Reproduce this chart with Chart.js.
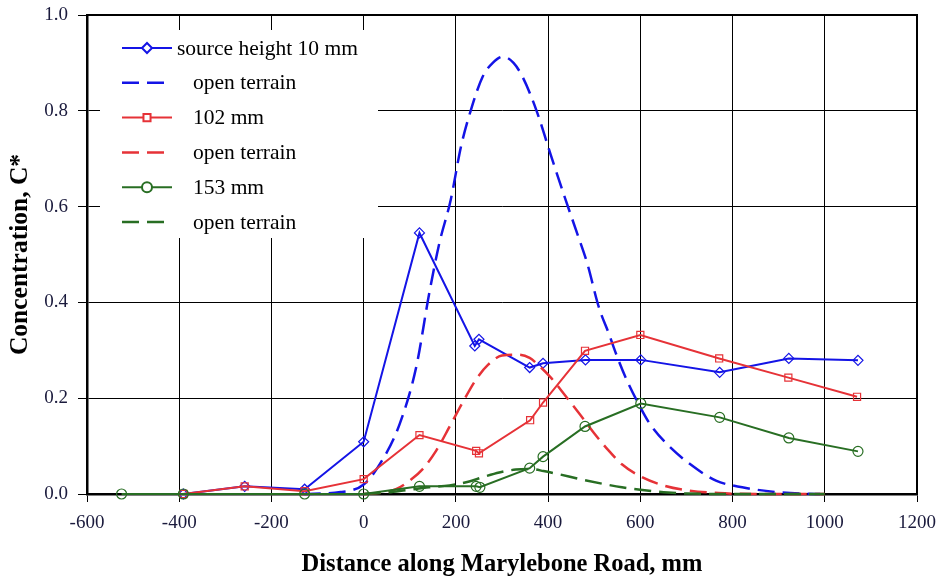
<!DOCTYPE html>
<html>
<head>
<meta charset="utf-8">
<script src="https://cdn.jsdelivr.net/npm/chart.js@4.4.1/dist/chart.umd.min.js"></script>
<style>
  html, body { margin: 0; padding: 0; background: #fff; }
  canvas { display: block; }
</style>
</head>
<body>
<canvas id="chart" width="946" height="581"></canvas>
<script>
// Measured concentrations, source height 10 mm
const h10X = [-391, -258, -128, 0, 121, 241, 250, 360, 389, 481, 601, 772, 922, 1072];
const h10Y = [0.0, 0.016, 0.010, 0.109, 0.545, 0.309, 0.323, 0.264, 0.273, 0.280, 0.280, 0.254, 0.283, 0.279];
// Source height 102 mm
const h102X = [-391, -258, -128, 0, 121, 244, 250, 361, 389, 480, 600, 771, 921, 1070];
const h102Y = [0.0, 0.016, 0.006, 0.031, 0.123, 0.090, 0.085, 0.154, 0.191, 0.299, 0.332, 0.283, 0.243, 0.203];
// Source height 153 mm
const h153X = [-525, -391, -128, 0, 121, 244, 252, 360, 389, 480, 601, 772, 922, 1072];
const h153Y = [0, 0, 0, 0, 0.016, 0.016, 0.014, 0.054, 0.078, 0.141, 0.189, 0.160, 0.117, 0.089];

// Open terrain profiles
const open10X = [-130, -50, 0, 40, 78, 114, 142, 164, 189, 211, 232, 258, 280, 302, 325, 345, 375, 405, 438, 463, 485, 510, 532, 550, 571, 600, 621, 657, 707, 764, 821, 907, 990];
const open10Y = [0, 0.004, 0.02, 0.07, 0.146, 0.265, 0.418, 0.523, 0.615, 0.725, 0.80, 0.871, 0.900, 0.913, 0.900, 0.870, 0.80, 0.71, 0.614, 0.544, 0.481, 0.39, 0.334, 0.286, 0.237, 0.181, 0.146, 0.105, 0.063, 0.028, 0.014, 0.003, 0];
const open102X = [0, 40, 70, 100, 128, 157, 186, 214, 243, 270, 300, 335, 360, 380, 405, 440, 470, 499, 530, 560, 600, 650, 700, 770, 850, 1000];
const open102Y = [0, 0.003, 0.01, 0.028, 0.052, 0.09, 0.14, 0.19, 0.238, 0.27, 0.289, 0.291, 0.284, 0.268, 0.244, 0.202, 0.165, 0.128, 0.092, 0.062, 0.037, 0.018, 0.008, 0.002, 0, 0];
const open153X = [0, 50, 92, 142, 186, 229, 258, 294, 330, 363, 390, 420, 470, 520, 560, 600, 660, 700, 800, 1000];
const open153Y = [0, 0.003, 0.008, 0.014, 0.018, 0.026, 0.035, 0.045, 0.051, 0.052, 0.048, 0.042, 0.031, 0.021, 0.014, 0.009, 0.003, 0.001, 0, 0];

const legendLabels = ['source height 10 mm', 'open terrain', '102 mm', 'open terrain', '153 mm', 'open terrain'];

const BLUE = 'rgb(20,20,230)';
const RED = 'rgb(230,50,55)';
const GREEN = 'rgb(40,110,35)';
const SERIF = "'Liberation Serif', 'Times New Roman', serif";

function toPoints(xs, ys) {
    return xs.map((x, i) => ({x: x, y: ys[i]}));
}

function measured(label, xs, ys, color, style, order) {
    return {
        label: label,
        data: toPoints(xs, ys),
        borderColor: color,
        borderWidth: 2,
        pointStyle: style,
        pointRadius: 5,
        pointBorderWidth: 1.2,
        pointBorderColor: color,
        pointBackgroundColor: 'rgba(255,255,255,0)',
        tension: 0,
        clip: false,
        order: order
    };
}

function openTerrain(xs, ys, color, order) {
    return {
        label: 'open terrain',
        data: toPoints(xs, ys),
        borderColor: color,
        borderWidth: 2.5,
        borderDash: [17, 8],
        pointRadius: 0,
        cubicInterpolationMode: 'monotone',
        clip: false,
        order: order
    };
}

// White legend box over the grid, plus the top/right frame
const legendBox = {
    id: 'legendBox',
    beforeDatasetsDraw(chart) {
        const ctx = chart.ctx;
        const area = chart.chartArea;
        ctx.save();
        ctx.strokeStyle = '#000';
        ctx.lineWidth = 2;
        ctx.beginPath();
        ctx.moveTo(area.left, area.top);
        ctx.lineTo(area.right, area.top);
        ctx.lineTo(area.right, area.bottom);
        ctx.stroke();

        const bx = area.left + 13, by = area.top + 15;
        ctx.fillStyle = '#fff';
        ctx.fillRect(bx, by, 278, 208);

        const ds = chart.data.datasets;
        ctx.font = '21.5px ' + SERIF;
        ctx.textBaseline = 'middle';
        for (let i = 0; i < ds.length; i++) {
            const y = by + 18 + i * 34.8;
            const x0 = bx + 22, x1 = bx + 72;
            ctx.strokeStyle = ds[i].borderColor;
            ctx.lineWidth = ds[i].borderWidth;
            ctx.setLineDash(ds[i].borderDash || []);
            ctx.beginPath();
            ctx.moveTo(x0, y);
            ctx.lineTo(x1, y);
            ctx.stroke();
            ctx.setLineDash([]);
            if (ds[i].pointRadius > 0) {
                ctx.fillStyle = '#fff';
                Chart.helpers.drawPoint(ctx, {
                    pointStyle: ds[i].pointStyle,
                    radius: ds[i].pointRadius,
                    borderWidth: ds[i].pointBorderWidth
                }, (x0 + x1) / 2, y);
            }
            ctx.fillStyle = '#000';
            const tx = i === 0 ? bx + 77 : bx + 93;
            ctx.fillText(legendLabels[i], tx, y + 1);
        }
        ctx.restore();
    }
};

Chart.defaults.font.family = SERIF;

new Chart(document.getElementById('chart'), {
    type: 'line',
    data: {
        datasets: [
            measured(legendLabels[0], h10X, h10Y, BLUE, 'rectRot', 5),
            openTerrain(open10X, open10Y, BLUE, 4),
            measured(legendLabels[2], h102X, h102Y, RED, 'rect', 3),
            openTerrain(open102X, open102Y, RED, 2),
            measured(legendLabels[4], h153X, h153Y, GREEN, 'circle', 1),
            openTerrain(open153X, open153Y, GREEN, 0)
        ]
    },
    options: {
        responsive: false,
        animation: false,
        layout: {padding: {top: 15, right: 27, left: 0, bottom: 0}},
        plugins: {
            legend: {display: false},
            tooltip: {enabled: false}
        },
        scales: {
            x: {
                type: 'linear',
                min: -600,
                max: 1200,
                ticks: {stepSize: 200, font: {size: 19}, color: '#1a1a3c', padding: 10, callback: v => String(v)},
                grid: {color: '#000', lineWidth: 1, tickLength: 8, tickColor: '#000'},
                border: {color: '#000', width: 2.5},
                title: {
                    display: true,
                    text: 'Distance along Marylebone Road, mm',
                    font: {size: 24.5, weight: 'bold'},
                    color: '#000',
                    padding: {top: 0, bottom: 2}
                },
                afterFit(scale) { scale.height = 87; }
            },
            y: {
                min: 0,
                max: 1.0,
                ticks: {
                    stepSize: 0.2,
                    font: {size: 19},
                    color: '#1a1a3c',
                    padding: 10,
                    callback: v => v.toFixed(1)
                },
                grid: {color: '#000', lineWidth: 1, tickLength: 9, tickColor: '#000'},
                border: {color: '#000', width: 2.5},
                title: {
                    display: true,
                    text: 'Concentration, C*',
                    font: {size: 25.5, weight: 'bold'},
                    color: '#000',
                    padding: {top: 5, bottom: 0}
                },
                afterFit(scale) {
                    scale.width = 87;
                    scale.paddingTop = 0;
                }
            }
        }
    },
    plugins: [legendBox]
});
</script>
</body>
</html>
